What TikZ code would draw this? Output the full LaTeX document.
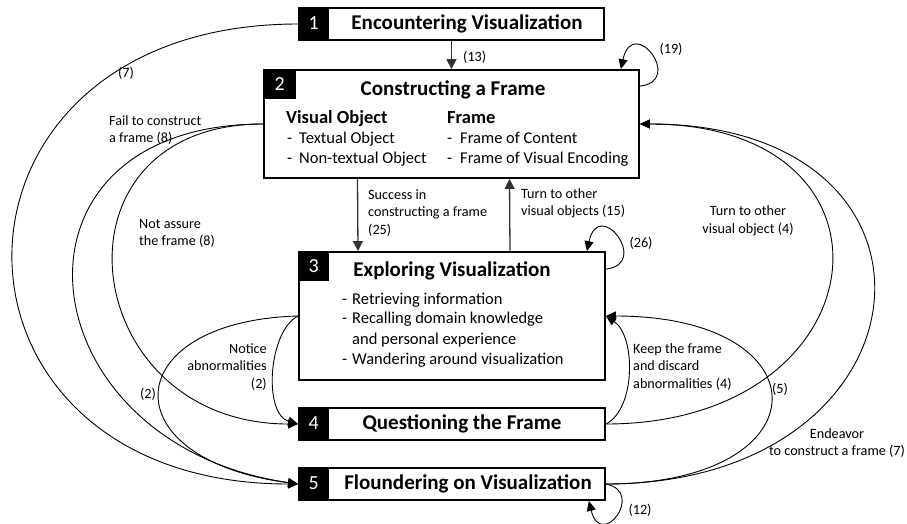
\documentclass[tikz,border=0pt]{standalone}
\usepackage{fontspec}
\setmainfont{Carlito}
\usetikzlibrary{arrows.meta}

\begin{document}
\begin{tikzpicture}[x=1pt,y=1pt,
  stage/.style={draw,line width=1.8pt,inner sep=0pt},
  num/.style={fill=black,text=white,inner sep=0pt,anchor=north west,font=\fontsize{20}{24}\selectfont},
  ttl/.style={inner sep=0pt,font=\fontsize{21}{25}\selectfont\bfseries},
  hd/.style={anchor=base west,inner sep=0pt,font=\fontsize{18.5}{22}\selectfont\bfseries},
  itm/.style={anchor=base west,inner sep=0pt,font=\fontsize{16.5}{20}\selectfont},
  lbl/.style={inner sep=0pt,font=\fontsize{14.2}{17.5}\selectfont},
  flow/.style={-{Triangle[length=10pt,width=9pt]},line width=0.9pt},
  trunk/.style={-{Triangle[length=10pt,width=10pt]},line width=1.3pt,black!80}]
\useasboundingbox (0,0) rectangle (907,-524);

\node[stage,minimum width=305pt,minimum height=32pt] (s1) at (451.5,-24) {};
\node[stage,minimum width=375pt,minimum height=108pt] (s2) at (451.5,-124) {};
\node[stage,minimum width=306pt,minimum height=128pt] (s3) at (452,-316) {};
\node[stage,minimum width=306pt,minimum height=32pt] (s4) at (452,-424) {};
\node[stage,minimum width=306pt,minimum height=32pt] (s5) at (452,-484) {};

\node[num,minimum width=31pt,minimum height=32pt] (n1) at (s1.north west) {1};
\node[num,minimum width=33pt,minimum height=30pt] (n2) at (s2.north west) {2};
\node[num,minimum width=31pt,minimum height=30pt] (n3) at (s3.north west) {3};
\node[num,minimum width=31pt,minimum height=32pt] (n4) at (s4.north west) {4};
\node[num,minimum width=31pt,minimum height=32pt] (n5) at (s5.north west) {5};

\node[ttl] (t1) at (467,-24) {Encountering Visualization};
\node[ttl] (t2) at (453,-90) {Constructing a Frame};
\node[ttl] (t3) at (452,-271) {Exploring Visualization};
\node[ttl] (t4) at (462,-424) {Questioning the Frame};
\node[ttl] (t5) at (468,-484) {Floundering on Visualization};

\node[hd] (vo) at (286,-123.5) {Visual Object};
\node[itm] (vo1) at (287,-143.5) {\makebox[12pt][l]{-}Textual Object};
\node[itm] (vo2) at (287,-163.5) {\makebox[12pt][l]{-}Non-textual Object};
\node[hd] (fr) at (447,-123.5) {Frame};
\node[itm] (fr1) at (447,-143.5) {\makebox[13pt][l]{-}Frame of Content};
\node[itm] (fr2) at (447,-163.5) {\makebox[13pt][l]{-}Frame of Visual Encoding};

\node[itm] (ex1) at (342,-304.5) {\makebox[10pt][l]{-}Retrieving information};
\node[itm] (ex2) at (342,-323.5) {\makebox[10pt][l]{-}Recalling domain knowledge};
\node[itm] (ex3) at (352,-344.5) {and personal experience};
\node[itm] (ex4) at (342,-364.5) {\makebox[10pt][l]{-}Wandering around visualization};

\draw[trunk] (s1.south) -- (s2.north);
\draw[trunk] ([xshift=-94pt]s2.south) -- ([xshift=-94pt]s3.north);
\draw[trunk] ([xshift=58pt]s3.north) -- ([xshift=58pt]s2.south);

\draw[flow] ([yshift=-17pt]s2.north east) .. controls +(45,5) and +(12,55) .. ([xshift=-19pt]s2.north east);
\draw[flow] ([yshift=-18pt]s3.north east) .. controls +(45,5) and +(12,55) .. ([xshift=-19pt]s3.north east);
\draw[flow] (s5.east) .. controls +(40,-8) and +(12,-50) .. ([xshift=-17pt]s5.south east);

\draw[flow] (s1.west) .. controls +(-380,0) and +(-380,0) .. (s5.west);
\draw[flow] (s2.west) .. controls +(-275,0) and +(-275,40) .. (s5.west);
\draw[flow] (s2.west) .. controls +(-222,0) and +(-222,0) .. (s4.west);
\draw[flow] (s3.west) .. controls +(-180,-5) and +(-190,25) .. (s5.west);
\draw[flow] (s3.west) .. controls +(-30,-15) and +(-35,10) .. (s4.west);

\draw[flow] (s4.east) .. controls +(30,15) and +(30,-20) .. (s3.east);
\draw[flow] (s5.east) .. controls +(220,0) and +(220,0) .. (s3.east);
\draw[flow] (s4.east) .. controls +(277,0) and +(277,0) .. (s2.east);
\draw[flow] (s5.east) .. controls +(333,0) and +(333,0) .. (s2.east);

\node[lbl,anchor=west] (l13) at (463,-57) {(13)};
\node[lbl] (l19) at (671,-49) {(19)};
\node[lbl,anchor=west,align=left] (l25) at (368,-213) {Success in\\constructing a frame\\(25)};
\node[lbl,anchor=west,align=left] (l15) at (521,-203.5) {Turn to other\\visual objects (15)};
\node[lbl] (l26) at (641,-243) {(26)};
\node[lbl,align=center] (l4b) at (748,-221) {Turn to other\\visual object (4)};
\node[lbl,anchor=west,align=left] (l4a) at (633,-367) {Keep the frame\\and discard\\abnormalities (4)};
\node[lbl] (l5) at (780,-389) {(5)};
\node[lbl,align=center] (l7b) at (837,-443) {Endeavor\\to construct a frame (7)};
\node[lbl] (l12) at (640,-510) {(12)};
\node[lbl] (l7a) at (126,-73) {(7)};
\node[lbl,anchor=west,align=left] (l8a) at (109,-130) {Fail to construct\\a frame (8)};
\node[lbl,anchor=west,align=left] (l8b) at (139,-233.5) {Not assure\\the frame (8)};
\node[lbl] (l2a) at (148,-394) {(2)};
\node[lbl,anchor=east,align=right] (l2b) at (267,-367) {Notice\\abnormalities\\(2)};
\end{tikzpicture}
\end{document}
